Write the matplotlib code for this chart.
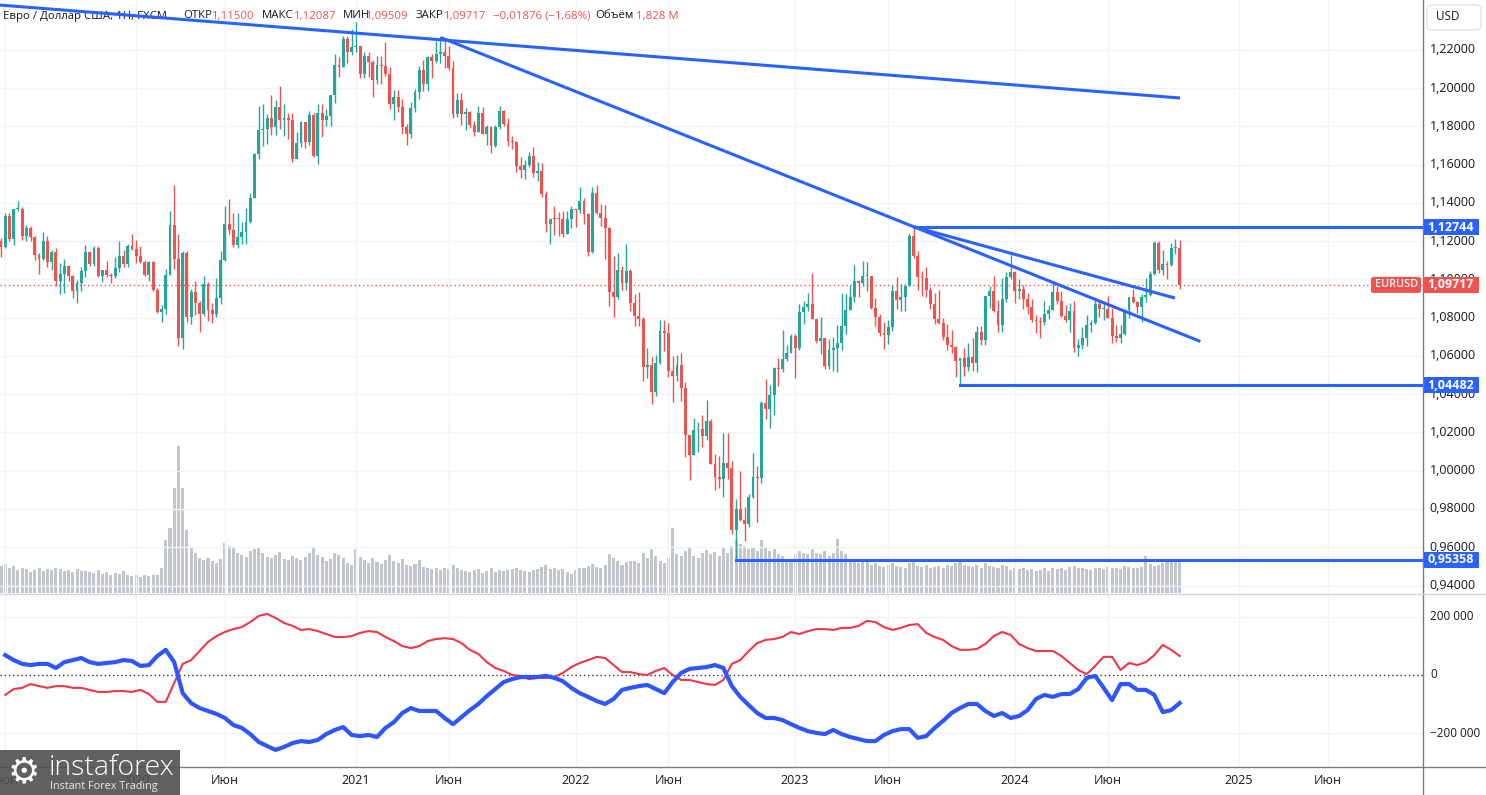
import numpy as np
import pandas as pd
import matplotlib
matplotlib.use("Agg")
import matplotlib.pyplot as plt
import matplotlib.transforms as mtransforms
from matplotlib.patches import Rectangle, FancyBboxPatch

# weekly EURUSD bars, first bar = week of 2019-05-27
first_week = "2019-05-27"
first_open = 1.1200
close = [
    1.1169, 1.1333, 1.1210, 1.1370, 1.1370, 1.1225, 1.1270, 1.1220, 1.1126, 1.1108,
    1.1200, 1.1090, 1.1143, 1.0990, 1.1027, 1.1073, 1.1018, 1.0940, 1.0980, 1.1042,
    1.1143, 1.1081, 1.1165, 1.1017, 1.1051, 1.1021, 1.1017, 1.1059, 1.1121, 1.1080,
    1.1176, 1.1160, 1.1121, 1.1091, 1.1025, 1.1093, 1.0944, 1.0830, 1.0846, 1.1025,
    1.1283, 1.1106, 1.0693, 1.1141, 1.0804, 1.0936, 1.0875, 1.0822, 1.0975, 1.0840,
    1.0820, 1.0902, 1.1100, 1.1290, 1.1257, 1.1178, 1.1220, 1.1249, 1.1300, 1.1427,
    1.1655, 1.1780, 1.1786, 1.1842, 1.1795, 1.1903, 1.1836, 1.1845, 1.1836, 1.1631,
    1.1716, 1.1826, 1.1717, 1.1860, 1.1646, 1.1873, 1.1832, 1.1856, 1.1964, 1.2120,
    1.2113, 1.2255, 1.2187, 1.2216, 1.2220, 1.2077, 1.2170, 1.2135, 1.2045, 1.2120,
    1.2118, 1.2077, 1.1918, 1.1953, 1.1902, 1.1795, 1.1762, 1.1899, 1.1983, 1.2096,
    1.2020, 1.2164, 1.2145, 1.2180, 1.2192, 1.2167, 1.2105, 1.1864, 1.1936, 1.1865,
    1.1875, 1.1810, 1.1769, 1.1868, 1.1763, 1.1795, 1.1699, 1.1795, 1.1879, 1.1812,
    1.1726, 1.1718, 1.1596, 1.1572, 1.1601, 1.1646, 1.1559, 1.1567, 1.1445, 1.1289,
    1.1318, 1.1317, 1.1316, 1.1240, 1.1318, 1.1370, 1.1361, 1.1412, 1.1344, 1.1146,
    1.1454, 1.1350, 1.1319, 1.1270, 1.0934, 1.0911, 1.1052, 1.0983, 1.1046, 1.0875,
    1.0809, 1.0795, 1.0545, 1.0551, 1.0412, 1.0561, 1.0733, 1.0719, 1.0520, 1.0495,
    1.0554, 1.0435, 1.0185, 1.0082, 1.0213, 1.0220, 1.0183, 1.0260, 1.0037, 0.9965,
    0.9955, 1.0040, 1.0016, 0.9688, 0.9801, 0.9743, 0.9723, 0.9862, 0.9966, 0.9960,
    1.0355, 1.0324, 1.0398, 1.0535, 1.0531, 1.0585, 1.0618, 1.0705, 1.0643, 1.0828,
    1.0856, 1.0870, 1.0796, 1.0678, 1.0694, 1.0546, 1.0633, 1.0640, 1.0670, 1.0759,
    1.0839, 1.0907, 1.0990, 1.0983, 1.1017, 1.1019, 1.0850, 1.0805, 1.0722, 1.0708,
    1.0750, 1.0939, 1.0894, 1.0910, 1.0968, 1.1229, 1.1125, 1.1015, 1.1006, 1.0946,
    1.0871, 1.0796, 1.0775, 1.0700, 1.0657, 1.0645, 1.0573, 1.0588, 1.0540, 1.0594,
    1.0565, 1.0728, 1.0684, 1.0913, 1.0940, 1.0837, 1.0762, 1.0897, 1.1012, 1.1039,
    1.0941, 1.0951, 1.0897, 1.0854, 1.0787, 1.0784, 1.0777, 1.0821, 1.0838, 1.0937,
    1.0890, 1.0808, 1.0790, 1.0837, 1.0641, 1.0656, 1.0694, 1.0762, 1.0770, 1.0870,
    1.0847, 1.0848, 1.0801, 1.0703, 1.0692, 1.0713, 1.0840, 1.0907, 1.0883, 1.0857,
    1.0910, 1.0918, 1.1027, 1.1193, 1.1048, 1.1083, 1.1075, 1.1163, 1.1164, 1.09717,
]
high = [
    1.1215, 1.1348, 1.1348, 1.1370, 1.1412, 1.1377, 1.1286, 1.1282, 1.1228, 1.1141,
    1.1250, 1.1230, 1.1153, 1.1164, 1.1085, 1.1109, 1.1075, 1.1025, 1.0999, 1.1063,
    1.1179, 1.1145, 1.1175, 1.1176, 1.1052, 1.1097, 1.1035, 1.1117, 1.1200, 1.1155,
    1.1187, 1.1239, 1.1206, 1.1173, 1.1100, 1.1097, 1.1095, 1.0955, 1.0865, 1.1053,
    1.1356, 1.1495, 1.1237, 1.1147, 1.1147, 1.0952, 1.0990, 1.0890, 1.1019, 1.0985,
    1.0876, 1.1008, 1.1147, 1.1384, 1.1422, 1.1349, 1.1349, 1.1303, 1.1372, 1.1452,
    1.1660, 1.1908, 1.1916, 1.1865, 1.1966, 1.1939, 1.2011, 1.1917, 1.1872, 1.1871,
    1.1770, 1.1831, 1.1800, 1.1881, 1.1870, 1.1920, 1.1920, 1.1893, 1.1964, 1.2177,
    1.2163, 1.2273, 1.2271, 1.2310, 1.2349, 1.2222, 1.2189, 1.2190, 1.2150, 1.2169,
    1.2169, 1.2243, 1.2113, 1.1990, 1.1990, 1.1942, 1.1815, 1.1927, 1.1995, 1.2117,
    1.2150, 1.2167, 1.2181, 1.2245, 1.2266, 1.2254, 1.2219, 1.2145, 1.1975, 1.1975,
    1.1895, 1.1880, 1.1829, 1.1909, 1.1900, 1.1806, 1.1803, 1.1810, 1.1909, 1.1888,
    1.1845, 1.1750, 1.1726, 1.1640, 1.1624, 1.1669, 1.1692, 1.1616, 1.1607, 1.1464,
    1.1316, 1.1382, 1.1355, 1.1360, 1.1360, 1.1386, 1.1369, 1.1482, 1.1428, 1.1346,
    1.1483, 1.1495, 1.1395, 1.1390, 1.1273, 1.1121, 1.1138, 1.1070, 1.1185, 1.1054,
    1.0924, 1.0936, 1.0806, 1.0642, 1.0597, 1.0607, 1.0787, 1.0786, 1.0774, 1.0601,
    1.0605, 1.0615, 1.0465, 1.0187, 1.0278, 1.0254, 1.0293, 1.0368, 1.0273, 1.0090,
    1.0079, 1.0197, 1.0198, 1.0051, 0.9853, 0.9999, 0.9810, 0.9876, 1.0094, 1.0024,
    1.0364, 1.0481, 1.0448, 1.0544, 1.0587, 1.0736, 1.0660, 1.0713, 1.0713, 1.0874,
    1.0887, 1.0929, 1.1033, 1.0795, 1.0805, 1.0695, 1.0691, 1.0700, 1.0760, 1.0930,
    1.0925, 1.0973, 1.1075, 1.0998, 1.1095, 1.1092, 1.1010, 1.0905, 1.0818, 1.0779,
    1.0788, 1.0971, 1.1012, 1.0976, 1.0975, 1.1244, 1.1276, 1.1149, 1.1043, 1.1065,
    1.0960, 1.0930, 1.0945, 1.0800, 1.0768, 1.0737, 1.0650, 1.0591, 1.0640, 1.0668,
    1.0695, 1.0757, 1.0756, 1.0908, 1.0966, 1.1017, 1.0895, 1.1009, 1.1040, 1.1140,
    1.1046, 1.1002, 1.0969, 1.0932, 1.0898, 1.0812, 1.0806, 1.0888, 1.0866, 1.0981,
    1.0964, 1.0942, 1.0865, 1.0876, 1.0885, 1.0690, 1.0753, 1.0812, 1.0790, 1.0895,
    1.0895, 1.0889, 1.0916, 1.0852, 1.0761, 1.0760, 1.0844, 1.0910, 1.0948, 1.0886,
    1.0926, 1.1009, 1.1047, 1.1202, 1.1202, 1.1155, 1.1095, 1.1190, 1.1214, 1.12087,
]
low = [
    1.1116, 1.1164, 1.1202, 1.1181, 1.1357, 1.1207, 1.1200, 1.1200, 1.1101, 1.1027,
    1.1100, 1.1066, 1.1051, 1.0965, 1.0926, 1.0927, 1.0990, 1.0905, 1.0879, 1.0942,
    1.1015, 1.1071, 1.1073, 1.1014, 1.0989, 1.1014, 1.0981, 1.1006, 1.1040, 1.1065,
    1.1066, 1.1154, 1.1086, 1.1086, 1.1019, 1.0992, 1.0940, 1.0827, 1.0778, 1.0820,
    1.1025, 1.1054, 1.0654, 1.0636, 1.0778, 1.0768, 1.0812, 1.0727, 1.0810, 1.0782,
    1.0775, 1.0806, 1.0870, 1.1097, 1.1240, 1.1168, 1.1166, 1.1185, 1.1185, 1.1294,
    1.1426, 1.1632, 1.1696, 1.1710, 1.1753, 1.1753, 1.1789, 1.1752, 1.1737, 1.1612,
    1.1629, 1.1695, 1.1689, 1.1703, 1.1640, 1.1603, 1.1745, 1.1800, 1.1800, 1.1924,
    1.2058, 1.2111, 1.2130, 1.2175, 1.2192, 1.2054, 1.2054, 1.2058, 1.1952, 1.2022,
    1.2023, 1.2062, 1.1893, 1.1836, 1.1874, 1.1762, 1.1704, 1.1742, 1.1876, 1.1944,
    1.1986, 1.1986, 1.2051, 1.2130, 1.2134, 1.2104, 1.2093, 1.1847, 1.1848, 1.1807,
    1.1782, 1.1794, 1.1752, 1.1769, 1.1760, 1.1705, 1.1664, 1.1692, 1.1785, 1.1802,
    1.1700, 1.1683, 1.1563, 1.1529, 1.1524, 1.1586, 1.1535, 1.1513, 1.1432, 1.1249,
    1.1186, 1.1234, 1.1227, 1.1222, 1.1258, 1.1271, 1.1272, 1.1350, 1.1291, 1.1121,
    1.1140, 1.1341, 1.1280, 1.1106, 1.0859, 1.0806, 1.0900, 1.0945, 1.0945, 1.0837,
    1.0757, 1.0758, 1.0471, 1.0483, 1.0349, 1.0389, 1.0558, 1.0627, 1.0491, 1.0359,
    1.0469, 1.0365, 1.0071, 0.9952, 1.0081, 1.0096, 1.0123, 1.0160, 1.0033, 0.9900,
    0.9910, 0.9864, 0.9956, 0.9669, 0.9536, 0.9736, 0.9632, 0.9704, 0.9858, 0.9730,
    0.9936, 1.0272, 1.0223, 1.0290, 1.0443, 1.0518, 1.0574, 1.0619, 1.0483, 1.0631,
    1.0767, 1.0835, 1.0794, 1.0669, 1.0613, 1.0533, 1.0533, 1.0524, 1.0516, 1.0631,
    1.0713, 1.0838, 1.0880, 1.0909, 1.0964, 1.0942, 1.0848, 1.0759, 1.0707, 1.0635,
    1.0664, 1.0733, 1.0844, 1.0835, 1.0834, 1.0964, 1.1113, 1.0945, 1.0912, 1.0911,
    1.0845, 1.0765, 1.0767, 1.0686, 1.0631, 1.0616, 1.0488, 1.0448, 1.0496, 1.0523,
    1.0524, 1.0516, 1.0655, 1.0658, 1.0852, 1.0829, 1.0723, 1.0723, 1.0880, 1.1002,
    1.0877, 1.0897, 1.0844, 1.0821, 1.0777, 1.0722, 1.0695, 1.0761, 1.0796, 1.0838,
    1.0872, 1.0802, 1.0776, 1.0724, 1.0622, 1.0601, 1.0635, 1.0650, 1.0723, 1.0766,
    1.0805, 1.0788, 1.0800, 1.0668, 1.0671, 1.0666, 1.0710, 1.0797, 1.0877, 1.0825,
    1.0777, 1.0881, 1.0916, 1.1025, 1.1033, 1.1026, 1.1000, 1.1069, 1.1132, 1.09509,
]
# volume, millions
volume = [
    1.55, 1.65, 1.40, 1.55, 1.30, 1.45, 1.35, 1.20, 1.30, 1.40,
    1.25, 1.35, 1.30, 1.45, 1.35, 1.25, 1.30, 1.20, 1.35, 1.25,
    1.25, 1.20, 1.15, 1.30, 1.10, 1.20, 1.05, 1.15, 1.10, 1.25,
    1.00, 0.95, 1.05, 0.90, 1.00, 0.95, 1.05, 1.00, 1.40, 3.00,
    3.70, 6.00, 8.40, 6.00, 3.60, 2.60, 2.30, 2.00, 1.90, 2.00,
    1.80, 1.70, 1.95, 2.85, 2.70, 2.55, 2.30, 2.15, 2.05, 2.40,
    2.50, 2.60, 2.30, 2.05, 2.00, 2.15, 2.35, 1.95, 1.90, 2.10,
    2.00, 1.90, 2.05, 2.30, 2.55, 2.15, 2.05, 1.85, 1.95, 2.30,
    2.15, 2.00, 1.70, 1.60, 2.50, 2.05, 1.90, 1.70, 2.00, 1.75,
    1.65, 1.90, 2.15, 1.80, 1.70, 1.95, 1.60, 1.55, 1.65, 1.90,
    1.50, 1.40, 1.35, 1.45, 1.30, 1.40, 1.35, 1.60, 1.40, 1.30,
    1.25, 1.20, 1.30, 1.35, 1.15, 1.25, 1.40, 1.20, 1.30, 1.25,
    1.30, 1.35, 1.45, 1.30, 1.25, 1.20, 1.30, 1.35, 1.50, 1.60,
    1.35, 1.40, 1.30, 1.35, 1.20, 1.10, 1.30, 1.45, 1.40, 1.55,
    1.65, 1.50, 1.45, 1.60, 2.20, 2.00, 1.80, 1.60, 1.75, 1.85,
    1.80, 1.70, 2.30, 2.00, 2.50, 2.10, 1.85, 1.70, 2.00, 3.70,
    2.20, 2.10, 2.40, 2.55, 2.10, 2.00, 2.30, 2.45, 2.20, 2.35,
    2.10, 2.60, 2.30, 2.70, 3.00, 2.80, 2.70, 2.50, 2.60, 2.40,
    3.00, 2.60, 2.40, 2.50, 2.20, 2.10, 1.90, 1.80, 2.20, 2.40,
    2.30, 2.20, 2.50, 2.30, 2.20, 2.40, 2.10, 2.30, 3.10, 2.40,
    2.20, 1.90, 1.80, 1.70, 1.75, 1.80, 1.60, 1.70, 1.55, 1.50,
    1.60, 1.70, 1.55, 1.50, 1.45, 1.70, 1.80, 1.55, 1.50, 1.60,
    1.45, 1.50, 1.55, 1.40, 1.60, 1.55, 1.70, 1.85, 1.60, 1.55,
    1.50, 1.60, 1.45, 1.70, 1.55, 1.50, 1.45, 1.60, 1.55, 1.30,
    1.40, 1.35, 1.45, 1.30, 1.35, 1.25, 1.30, 1.40, 1.25, 1.45,
    1.35, 1.40, 1.30, 1.50, 1.55, 1.45, 1.40, 1.35, 1.30, 1.45,
    1.40, 1.35, 1.50, 1.45, 1.40, 1.35, 1.55, 1.50, 1.40, 1.45,
    1.50, 2.10, 1.65, 1.55, 1.60, 1.70, 1.75, 1.80, 1.95, 1.828,
]
# net positions indicator (thousands), every second week starting with bar 1
ind_red = [
    -68, -48, -44, -31, -38, -44, -38, -38, -44, -44,
    -51, -58, -58, -55, -55, -58, -51, -65, -92, -92,
    -27, 38, 51, 82, 113, 133, 147, 157, 164, 181,
    202, 209, 195, 178, 168, 154, 157, 150, 140, 130,
    130, 133, 144, 150, 147, 130, 116, 99, 92, 99,
    116, 123, 126, 123, 109, 86, 72, 44, 24, 14,
    0, -3, -14, -10, -10, -7, 7, 27, 41, 51,
    62, 58, 34, 10, 10, 3, 0, 14, 24, 0,
    -17, -17, -24, -31, -34, -17, 38, 51, 82, 109,
    120, 123, 130, 147, 140, 150, 157, 157, 154, 161,
    161, 168, 185, 181, 164, 154, 161, 171, 174, 144,
    130, 120, 99, 86, 86, 89, 106, 133, 147, 137,
    106, 92, 82, 82, 82, 65, 41, 17, 3, 31,
    62, 62, 17, 41, 34, 44, 68, 103, 86, 65,
]
ind_blue = [
    68, 51, 38, 34, 38, 38, 24, 44, 51, 58,
    44, 38, 41, 44, 51, 48, 31, 34, 65, 86,
    44, -62, -96, -113, -123, -133, -147, -171, -181, -202,
    -229, -243, -256, -246, -233, -226, -229, -222, -202, -188,
    -178, -205, -209, -205, -212, -181, -161, -130, -113, -123,
    -123, -123, -147, -168, -144, -120, -99, -72, -48, -24,
    -14, -7, -7, -7, -3, -10, -21, -44, -62, -75,
    -89, -99, -82, -51, -44, -38, -34, -48, -62, -24,
    7, 21, 24, 27, 34, 24, -38, -75, -103, -130,
    -147, -147, -154, -168, -181, -192, -198, -202, -188, -202,
    -212, -219, -226, -226, -205, -192, -185, -185, -215, -209,
    -181, -157, -130, -113, -99, -99, -123, -140, -130, -147,
    -140, -120, -82, -68, -75, -65, -65, -48, -10, -3,
    -44, -86, -31, -31, -51, -51, -68, -127, -120, -96,
]
price_ticks = [0.94, 0.96, 0.98, 1.00, 1.02, 1.04, 1.06, 1.08, 1.10, 1.12, 1.14, 1.16, 1.18, 1.20, 1.22]
ind_ticks = [200, 0, -200]
# trend lines: (bar, price) anchors
trend_lines = [((-0.24, 1.2435), (279.1, 1.1949)),
               ((104, 1.2266), (283.9, 1.0676)),
               ((216, 1.1276), (277.9, 1.0903))]
# horizontal levels: starting bar, price
levels = [(216, 1.12744), (227, 1.04482), (174, 0.95358)]
last_price = 1.09717

weeks = pd.date_range(first_week, periods=340, freq="W-MON")
n = len(close)
x = np.arange(n)
opn = np.array([first_open] + close[:-1])
cl = np.array(close)
hi = np.maximum.reduce([np.array(high), opn, cl])
lo = np.minimum.reduce([np.array(low), opn, cl])

W, H = 1486, 795
fig = plt.figure(figsize=(W / 100, H / 100), dpi=100)
fig.patch.set_facecolor("white")
plt.rcParams['font.family'] = ['Open Sans', 'DejaVu Sans']

GREEN, RED, BLUE = "#26a69a", "#ef5350", "#2962ff"
GRID = "#f0f3fa"
TXT = "#131722"

def fy(py):
    return 1 - py / H

axw = 1423 / W
ax = fig.add_axes([0, fy(593), axw, 593 / H])
ax2 = fig.add_axes([0, fy(767), axw, (767 - 594) / H])

xlim = (-0.237, 336.6)
for a in (ax, ax2):
    a.set_xlim(*xlim)
    for s in a.spines.values():
        s.set_visible(False)
    a.set_xticks([])
    a.set_yticks([])

ax.set_ylim(1.22 - 543 / 1912.5, 1.22 + 50 / 1912.5)
ax2.set_ylim((675 - 767) * 3.419, (675 - 594) * 3.419)

# month grid (January and June)
month_bars = []
for i in range(1, len(weeks)):
    if weeks[i].month != weeks[i - 1].month and weeks[i].month in (1, 6):
        month_bars.append((i, weeks[i]))
for i, d in month_bars:
    ax.axvline(i, color=GRID, lw=1, zorder=0)
    ax2.axvline(i, color=GRID, lw=1, zorder=0)
for p in price_ticks:
    ax.axhline(p, color=GRID, lw=1, zorder=0)
for v in (200, -200):
    ax2.axhline(v, color=GRID, lw=1, zorder=0)

# volume on its own scale
axv = ax.twinx()
axv.set_xlim(*xlim)
axv.set_ylim(0, 593 * 0.057)
axv.axis("off")
axv.bar(x, volume, width=0.72, color="#b8bbc2", alpha=0.85, zorder=1)
ax.set_zorder(axv.get_zorder() + 1)
ax.patch.set_visible(False)

# candles
colors = np.where(cl >= opn, GREEN, RED)
ax.vlines(x, lo, hi, colors=colors, lw=1, zorder=3)
body = np.maximum(np.abs(cl - opn), 0.0006)
ax.bar(x, body, bottom=np.minimum(opn, cl), width=0.68, color=colors, zorder=3)

# current price
ax.axhline(last_price, color=RED, lw=1, ls=(0, (1, 2)), zorder=2)

# trend lines and levels
for (x0, y0), (x1, y1) in trend_lines:
    ax.plot([x0, x1], [y0, y1], color=BLUE, lw=2.2, zorder=4, solid_capstyle="butt")
for b, p in levels:
    ax.plot([b, xlim[1]], [p, p], color=BLUE, lw=2.2, zorder=4)

# header
header = [(3, "Евро / Доллар США, 1Н, FXCM", TXT), (183, "ОТКР", TXT), (212, "1,11500", RED),
          (262, "МАКС", TXT), (294, "1,12087", RED), (343, "МИН", TXT), (366, "1,09509", RED),
          (416, "ЗАКР", TXT), (444, "1,09717", RED), (493, "−0,01876 (−1,68%)", RED),
          (595, "Объём", TXT), (636, "1,828 M", RED)]
for px_, s, c in header:
    ax.text(px_ / 1423, 1 - 16 / 593, s, transform=ax.transAxes, color=c, fontsize=8.2,
            va="center", ha="left", zorder=1)

# indicator
ind_x = x[1::2]
ax2.axhline(0, color="#333333", lw=1, ls=(0, (1, 2)), zorder=1)
ax2.plot(ind_x, ind_red, color="#f23645", lw=1.5, zorder=3)
ax2.plot(ind_x, ind_blue, color="#2f55ff", lw=3, zorder=3)

# frame lines
fig.add_artist(plt.Line2D([axw, axw], [0, 1], color="#787b86", lw=1))
fig.add_artist(plt.Line2D([0, 1], [fy(593.5), fy(593.5)], color="#d1d4dc", lw=1))
fig.add_artist(plt.Line2D([0, 1], [fy(767), fy(767)], color="#787b86", lw=1))

# right price scale
tr = mtransforms.blended_transform_factory(fig.transFigure, ax.transData)
for p in price_ticks:
    fig.text(1452.5 / W, p, f"{p:.5f}".replace(".", ","), transform=tr, ha="center", va="center",
             color=TXT, fontsize=9)

for b, p in levels:
    yp = 50 + (1.22 - p) * 1912.5
    fig.patches.append(Rectangle((1423.5 / W, fy(yp + 8)), 55 / W, 16 / H, transform=fig.transFigure,
                                 facecolor=BLUE, edgecolor="none", zorder=5))
    fig.text(1451 / W, fy(yp), f"{p:.5f}".replace(".", ","), color="white", fontsize=9,
             ha="center", va="center", zorder=6, fontweight="bold")
yp = 50 + (1.22 - last_price) * 1912.5
fig.patches.append(FancyBboxPatch((1371 / W, fy(yp + 8)), 50 / W, 16 / H, transform=fig.transFigure,
                                  boxstyle="round,pad=0,rounding_size=0.002", facecolor=RED,
                                  edgecolor="none", zorder=5))
fig.patches.append(Rectangle((1423.5 / W, fy(yp + 8)), 55 / W, 16 / H, transform=fig.transFigure,
                             facecolor=RED, edgecolor="none", zorder=5))
fig.text(1396 / W, fy(yp), "EURUSD", color="white", fontsize=7.8, ha="center", va="center",
         fontweight="semibold", zorder=6)
fig.text(1451 / W, fy(yp), "1,09717", color="white", fontsize=9, ha="center", va="center",
         fontweight="bold", zorder=6)

# USD box
fig.patches.append(FancyBboxPatch((1427 / W, fy(30)), 54 / W, 25 / H, transform=fig.transFigure,
                                  boxstyle="round,pad=0,rounding_size=0.004", facecolor="white",
                                  edgecolor="#e0e3eb", lw=1, zorder=5))
fig.text(1436 / W, fy(17), "USD", color=TXT, fontsize=8.5, ha="left", va="center", zorder=6)

# indicator scale
tr2 = mtransforms.blended_transform_factory(fig.transFigure, ax2.transData)
for v in ind_ticks:
    lab = "0" if v == 0 else f"{v:+d} 000".replace("+", "").replace("-", "−")
    fig.text(1430 / W, v, lab, transform=tr2, ha="left", va="center", color=TXT, fontsize=8.5)

# time axis labels
for i, d in month_bars:
    lab = str(d.year) if d.month == 1 else "Июн"
    xp = 1 + i * 4.224
    fig.text(xp / W, fy(781), lab, ha="center", va="center", color=TXT, fontsize=9)

# logo
fig.patches.append(Rectangle((0, 0), 180 / W, 45 / H, transform=fig.transFigure,
                             facecolor="#505050", alpha=0.9, edgecolor="none", zorder=7))
fig.text(24 / W, fy(772), "⚙", color="white", fontsize=26, ha="center", va="center",
         family="DejaVu Sans", zorder=8)
fig.text(49 / W, fy(768), "instaforex", color="white", fontsize=20.5, ha="left", va="center",
         fontweight="light", zorder=8)
fig.text(50 / W, fy(787), "Instant Forex Trading", color="#e8e8e8", fontsize=7.8, ha="left",
         va="center", zorder=8)

fig.savefig("out.png", dpi=100, facecolor="white")
